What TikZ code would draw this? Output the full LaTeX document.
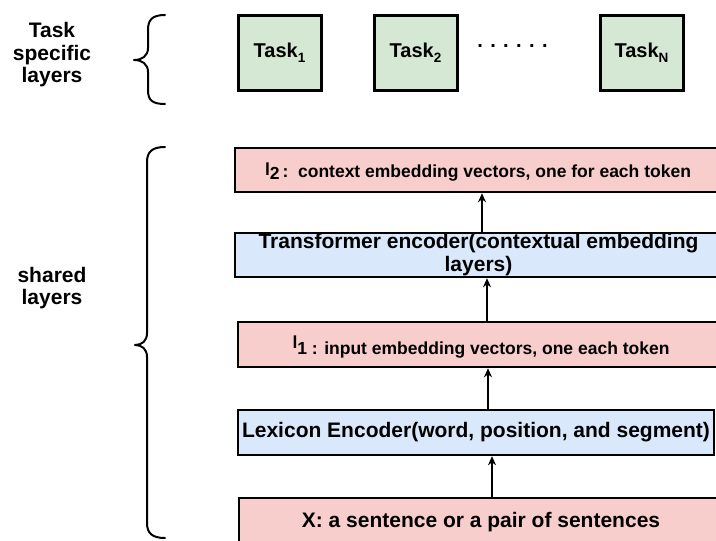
\documentclass[tikz,border=0pt]{standalone}
\usepackage{fontspec}
\setmainfont{Liberation Sans}
\usetikzlibrary{arrows.meta}
\definecolor{pinkf}{HTML}{F8CECC}
\definecolor{bluef}{HTML}{DAE8FC}
\definecolor{greenf}{HTML}{D5E8D4}
\begin{document}
\begin{tikzpicture}[x=1pt,y=-1pt,
  layerbox/.style={draw=black, line width=2.5pt, rectangle, inner sep=0pt, align=center,
    font=\bfseries\fontsize{21}{24}\selectfont},
  smalltext/.style={font=\bfseries\fontsize{17.5}{20}\selectfont},
  taskbox/.style={draw=black, line width=3pt, fill=greenf, rectangle, inner sep=0pt,
    minimum width=83pt, minimum height=75pt, font=\bfseries\fontsize{20}{24}\selectfont},
  sidelabel/.style={align=center, font=\bfseries\fontsize{21}{22.5}\selectfont, inner sep=0pt},
  bracepath/.style={line width=2pt, line cap=round, line join=round},
  arr/.style={line width=1.4pt, -{Stealth[length=9pt,width=8pt]}}
]
\useasboundingbox (0,0) rectangle (716,541);
\clip (0,0) rectangle (716,541);

% task specific layers
\node[sidelabel] (tsl) at (52,55) {Task\\specific\\layers};
\draw[bracepath] (165,15) .. controls (152,15) and (148,20) .. (148,30) -- (148,48)
  .. controls (148,56) and (142,60) .. (134,60)
  .. controls (142,60) and (148,64) .. (148,72) -- (148,90)
  .. controls (148,100) and (152,104) .. (165,104);

\node[taskbox] (t1) at (279.5,52.5) {Task\raisebox{-5pt}{\fontsize{13.5}{13.5}\selectfont 1}};
\node[taskbox] (t2) at (415.5,52.5) {Task\raisebox{-5pt}{\fontsize{13.5}{13.5}\selectfont 2}};
\node[inner sep=0pt, font=\bfseries\fontsize{20}{20}\selectfont] (dots) at (512.5,46.5)
  {.\hspace{7.4pt}.\hspace{7.4pt}.\hspace{7.4pt}.\hspace{7.4pt}.\hspace{7.4pt}.};
\node[taskbox] (tn) at (641.5,52.5) {Task\raisebox{-5pt}{\fontsize{13.5}{13.5}\selectfont N}};

% shared layers
\node[sidelabel] (shl) at (52,288) {shared\\layers};
\draw[bracepath] (165,147) .. controls (152,147) and (147,152) .. (147,162) -- (147,333)
  .. controls (147,341) and (142,345) .. (135,345)
  .. controls (142,345) and (147,349) .. (147,357) -- (147,523)
  .. controls (147,533) and (152,538) .. (165,538);

\node[layerbox, fill=pinkf, minimum width=487pt, minimum height=44pt] (l2) at (478.5,170) {};
\node[smalltext, inner sep=0pt] (l2t) at (478,172)
  {\raisebox{2pt}{l}\raisebox{-2pt}{2}\,:\ \ context embedding vectors, one for each token};

\node[layerbox, fill=bluef, minimum width=487pt, minimum height=44pt] (tr) at (478.5,255)
  {Transformer encoder(contextual embedding\\[-1pt]layers)};

\node[layerbox, fill=pinkf, minimum width=486pt, minimum height=45pt] (l1) at (481,344.5) {};
\node[smalltext, inner sep=0pt] (l1t) at (481,347)
  {\raisebox{6pt}{l}1 : input embedding vectors, one each token};

\node[layerbox, fill=bluef, minimum width=476pt, minimum height=45pt] (lex) at (476,432.5)
  {Lexicon Encoder(word, position, and segment)};

\node[layerbox, fill=pinkf, minimum width=484pt, minimum height=48pt] (x) at (481,522)
  {X: a sentence or a pair of sentences};

% arrows
\coordinate (ax1) at (482,0);
\coordinate (ax2) at (487,0);
\coordinate (ax3) at (488,0);
\coordinate (ax4) at (492,0);
\draw[arr] (tr.north -| ax1) -- (l2.south -| ax1);
\draw[arr] (l1.north -| ax2) -- (tr.south -| ax2);
\draw[arr] (lex.north -| ax3) -- (l1.south -| ax3);
\draw[arr] (x.north -| ax4) -- (lex.south -| ax4);
\end{tikzpicture}
\end{document}
